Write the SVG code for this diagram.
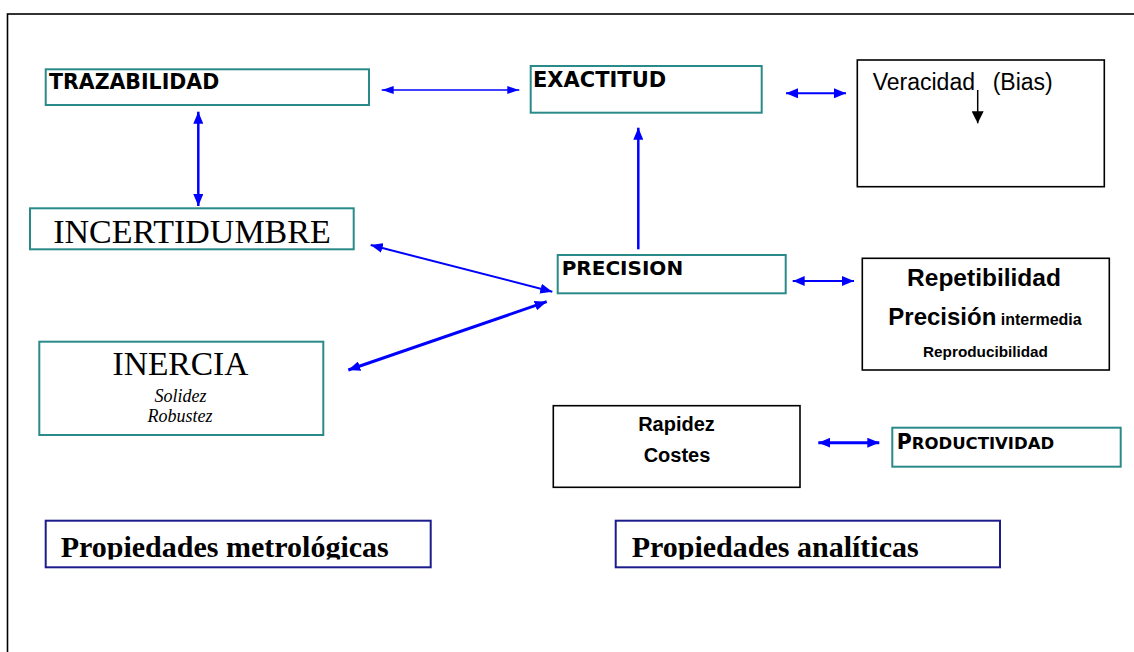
<svg xmlns="http://www.w3.org/2000/svg" width="1134" height="652" viewBox="0 0 1134 652">
<style>
.teal{fill:#fff;stroke:#2a8a8a;stroke-width:2}
.blk{fill:#fff;stroke:#000;stroke-width:1.6}
.navy{fill:#fff;stroke:#1c1c8c;stroke-width:2}
.vb{font-family:"DejaVu Sans",Verdana,sans-serif;font-weight:bold;fill:#000}
.tb{font-family:"Liberation Sans",Arial,sans-serif;font-weight:bold;fill:#000}
.sr{font-family:"Liberation Serif","Times New Roman",serif;fill:#000}
.con{stroke:#0000ff;fill:none}
</style>
<defs>
<marker id="ah" viewBox="0 0 12 10" markerWidth="12" markerHeight="10" refX="12" refY="5" markerUnits="userSpaceOnUse" orient="auto-start-reverse"><path d="M0,0 L12,5 L0,10 z" fill="#0000ff"/></marker>
<marker id="ahs" viewBox="0 0 12 8" markerWidth="12" markerHeight="8" refX="12" refY="4" markerUnits="userSpaceOnUse" orient="auto-start-reverse"><path d="M0,0 L12,4 L0,8 z" fill="#0000ff"/></marker>
<marker id="ahk" viewBox="0 0 12 12" markerWidth="12" markerHeight="12" refX="12" refY="6" markerUnits="userSpaceOnUse" orient="auto"><path d="M0,0 L12,6 L0,12 z" fill="#000"/></marker>
<clipPath id="clipProp"><rect x="0" y="500" width="1134" height="59.5"/></clipPath>
</defs>
<rect x="7.5" y="14" width="1200" height="700" fill="none" stroke="#000" stroke-width="1.6"/>

<g id="trazabilidad">
<rect class="teal" x="45.7" y="69.3" width="323.3" height="35.7"/>
<text class="vb" x="49" y="89" font-size="20.5">TRAZABILIDAD</text>
</g>
<g id="exactitud">
<rect class="teal" x="530.7" y="66" width="231" height="46.7"/>
<text class="vb" x="533" y="87.3" font-size="21">EXACTITUD</text>
</g>
<g id="veracidad">
<rect class="blk" x="857.3" y="60" width="247" height="126.7"/>
<text font-family="Liberation Sans,Arial,sans-serif" font-size="23" fill="#000" y="90"><tspan x="872.7">Veracidad</tspan><tspan x="992.7">(Bias)</tspan></text>
<line x1="977.7" y1="90" x2="977.7" y2="123.3" stroke="#000" stroke-width="1.5" marker-end="url(#ahk)"/>
</g>
<g id="incertidumbre">
<rect class="teal" x="30" y="208.3" width="323.7" height="41"/>
<text class="sr" x="192" y="243.3" font-size="34" text-anchor="middle">INCERTIDUMBRE</text>
</g>
<g id="precision">
<rect class="teal" x="557.7" y="255" width="228" height="38.3"/>
<text class="vb" x="561.7" y="275" font-size="20">PRECISION</text>
</g>
<g id="inercia">
<rect class="teal" x="39.3" y="341.7" width="284" height="93.3"/>
<text class="sr" x="180.5" y="375" font-size="33.5" text-anchor="middle">INERCIA</text>
<text class="sr" x="180.5" y="401.7" font-size="18" font-style="italic" text-anchor="middle">Solidez</text>
<text class="sr" x="180" y="422.3" font-size="18" font-style="italic" text-anchor="middle">Robustez</text>
</g>
<g id="repetibilidad">
<rect class="blk" x="862.3" y="258.3" width="247" height="111.7"/>
<text class="tb" x="984" y="286" font-size="24.5" text-anchor="middle">Repetibilidad</text>
<text class="tb" x="985" y="325" text-anchor="middle"><tspan font-size="24">Precisión</tspan><tspan font-size="16"> intermedia</tspan></text>
<text class="tb" x="985.5" y="357.3" font-size="15.3" text-anchor="middle">Reproducibilidad</text>
</g>
<g id="rapidez">
<rect class="blk" x="553.3" y="405.7" width="246.7" height="81.6"/>
<text class="tb" x="676.5" y="431" font-size="20" text-anchor="middle">Rapidez</text>
<text class="tb" x="677" y="461.7" font-size="20" text-anchor="middle">Costes</text>
</g>
<g id="productividad">
<rect class="teal" x="892.3" y="427.7" width="228.4" height="39"/>
<text class="vb" x="896.7" y="449"><tspan font-size="20.5">P</tspan><tspan font-size="16.5">RODUCTIVIDAD</tspan></text>
</g>
<g id="prop-metrologicas">
<rect class="navy" x="45.7" y="520.7" width="385" height="46.6"/>
<text class="sr" x="60.7" y="557.3" font-size="30" font-weight="bold" clip-path="url(#clipProp)">Propiedades metrológicas</text>
</g>
<g id="prop-analiticas">
<rect class="navy" x="615.7" y="520.7" width="384.3" height="46.6"/>
<text class="sr" x="631.7" y="557.3" font-size="30" font-weight="bold" clip-path="url(#clipProp)">Propiedades analíticas</text>
</g>

<g id="connectors">
<line class="con" x1="381.7" y1="90" x2="519.3" y2="90" stroke-width="1.5" marker-start="url(#ahs)" marker-end="url(#ahs)"/>
<line class="con" x1="786" y1="93.3" x2="846" y2="93.3" stroke-width="2" marker-start="url(#ah)" marker-end="url(#ah)"/>
<line class="con" x1="198.3" y1="111.7" x2="198.3" y2="206" stroke-width="2.5" marker-start="url(#ah)" marker-end="url(#ah)"/>
<line class="con" x1="638.3" y1="249.3" x2="638.3" y2="127.7" stroke-width="2.5" marker-end="url(#ah)"/>
<line class="con" x1="370.7" y1="245" x2="552.3" y2="291.7" stroke-width="2" marker-start="url(#ah)" marker-end="url(#ah)"/>
<line class="con" x1="348.3" y1="370" x2="546.7" y2="301.7" stroke-width="3" marker-start="url(#ah)" marker-end="url(#ah)"/>
<line class="con" x1="792.7" y1="281" x2="854" y2="281" stroke-width="2" marker-start="url(#ah)" marker-end="url(#ah)"/>
<line class="con" x1="818.3" y1="442.7" x2="879.3" y2="442.7" stroke-width="3" marker-start="url(#ah)" marker-end="url(#ah)"/>
</g>
</svg>
